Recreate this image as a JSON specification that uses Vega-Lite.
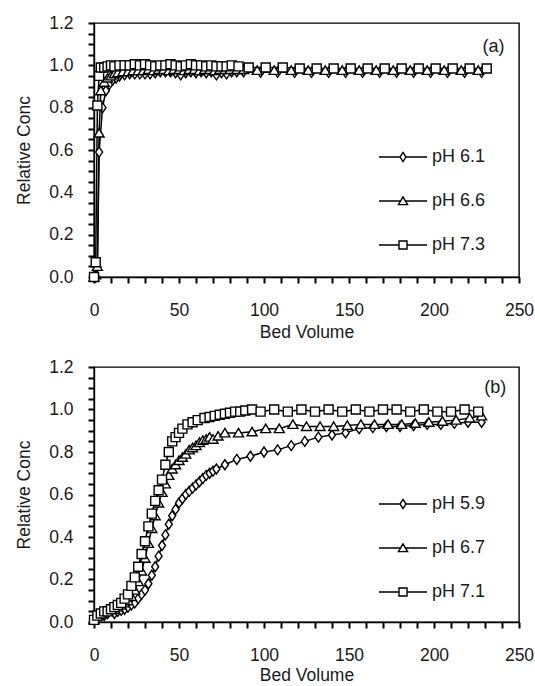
{
  "$schema": "https://vega.github.io/schema/vega-lite/v6.json",
  "background": "white",
  "padding": {"left": 14, "top": 13, "right": 10, "bottom": 0},
  "spacing": 90,
  "bounds": "flush",
  "config": {
    "font": "Liberation Sans",
    "view": {"stroke": "black", "strokeWidth": 1.4},
    "axis": {
      "labelFont": "Liberation Sans", "labelFontSize": 17.5, "labelColor": "#1a1a1a",
      "titleFont": "Liberation Sans", "titleFontSize": 17.5, "titleFontWeight": "normal", "titleColor": "#1a1a1a",
      "domainColor": "black", "domainWidth": 1.4, "tickColor": "#000000", "tickWidth": 2, "tickSize": 6,
      "grid": false, "labelOverlap": false, "labelFlush": false
    },
    "axisX": {"labelPadding": 18, "titlePadding": 5},
    "axisY": {"labelPadding": 15, "titlePadding": 15}
  },
  "resolve": {"scale": {"shape": "independent"}, "legend": {"shape": "independent"}},
  "datasets": {
    "a": [
      {"bv": 0, "c": 0.0, "s": "pH 6.1"}, {"bv": 1, "c": 0.0, "s": "pH 6.1"}, {"bv": 2, "c": 0.05, "s": "pH 6.1"}, {"bv": 3, "c": 0.59, "s": "pH 6.1"}, {"bv": 5, "c": 0.8, "s": "pH 6.1"}, {"bv": 7, "c": 0.88, "s": "pH 6.1"}, {"bv": 9, "c": 0.91, "s": "pH 6.1"}, {"bv": 11, "c": 0.93, "s": "pH 6.1"}, {"bv": 13, "c": 0.94, "s": "pH 6.1"}, {"bv": 15, "c": 0.95, "s": "pH 6.1"}, {"bv": 18, "c": 0.955, "s": "pH 6.1"}, {"bv": 21, "c": 0.96, "s": "pH 6.1"}, {"bv": 24, "c": 0.96, "s": "pH 6.1"}, {"bv": 27, "c": 0.96, "s": "pH 6.1"}, {"bv": 30, "c": 0.96, "s": "pH 6.1"}, {"bv": 33, "c": 0.96, "s": "pH 6.1"}, {"bv": 36, "c": 0.965, "s": "pH 6.1"}, {"bv": 39, "c": 0.97, "s": "pH 6.1"}, {"bv": 42, "c": 0.97, "s": "pH 6.1"}, {"bv": 45, "c": 0.97, "s": "pH 6.1"}, {"bv": 48, "c": 0.965, "s": "pH 6.1"}, {"bv": 51, "c": 0.955, "s": "pH 6.1"}, {"bv": 54, "c": 0.965, "s": "pH 6.1"}, {"bv": 57, "c": 0.97, "s": "pH 6.1"}, {"bv": 60, "c": 0.965, "s": "pH 6.1"}, {"bv": 63, "c": 0.97, "s": "pH 6.1"}, {"bv": 66, "c": 0.965, "s": "pH 6.1"}, {"bv": 69, "c": 0.97, "s": "pH 6.1"}, {"bv": 72, "c": 0.955, "s": "pH 6.1"}, {"bv": 75, "c": 0.965, "s": "pH 6.1"}, {"bv": 78, "c": 0.96, "s": "pH 6.1"}, {"bv": 81, "c": 0.97, "s": "pH 6.1"}, {"bv": 84, "c": 0.97, "s": "pH 6.1"}, {"bv": 88, "c": 0.97, "s": "pH 6.1"}, {"bv": 98, "c": 0.967, "s": "pH 6.1"}, {"bv": 108, "c": 0.967, "s": "pH 6.1"}, {"bv": 118, "c": 0.967, "s": "pH 6.1"}, {"bv": 128, "c": 0.967, "s": "pH 6.1"}, {"bv": 138, "c": 0.967, "s": "pH 6.1"}, {"bv": 148, "c": 0.967, "s": "pH 6.1"}, {"bv": 158, "c": 0.967, "s": "pH 6.1"}, {"bv": 168, "c": 0.967, "s": "pH 6.1"}, {"bv": 178, "c": 0.967, "s": "pH 6.1"}, {"bv": 188, "c": 0.967, "s": "pH 6.1"}, {"bv": 198, "c": 0.967, "s": "pH 6.1"}, {"bv": 208, "c": 0.967, "s": "pH 6.1"}, {"bv": 218, "c": 0.967, "s": "pH 6.1"}, {"bv": 228, "c": 0.967, "s": "pH 6.1"},
      {"bv": 0, "c": 0.0, "s": "pH 6.6"}, {"bv": 1, "c": 0.01, "s": "pH 6.6"}, {"bv": 2, "c": 0.05, "s": "pH 6.6"}, {"bv": 3, "c": 0.68, "s": "pH 6.6"}, {"bv": 4, "c": 0.88, "s": "pH 6.6"}, {"bv": 6, "c": 0.92, "s": "pH 6.6"}, {"bv": 8, "c": 0.94, "s": "pH 6.6"}, {"bv": 10, "c": 0.95, "s": "pH 6.6"}, {"bv": 12, "c": 0.96, "s": "pH 6.6"}, {"bv": 14, "c": 0.965, "s": "pH 6.6"}, {"bv": 17, "c": 0.97, "s": "pH 6.6"}, {"bv": 20, "c": 0.97, "s": "pH 6.6"}, {"bv": 23, "c": 0.975, "s": "pH 6.6"}, {"bv": 26, "c": 0.975, "s": "pH 6.6"}, {"bv": 29, "c": 0.975, "s": "pH 6.6"}, {"bv": 32, "c": 0.98, "s": "pH 6.6"}, {"bv": 35, "c": 0.975, "s": "pH 6.6"}, {"bv": 38, "c": 0.98, "s": "pH 6.6"}, {"bv": 41, "c": 0.98, "s": "pH 6.6"}, {"bv": 44, "c": 0.975, "s": "pH 6.6"}, {"bv": 47, "c": 0.98, "s": "pH 6.6"}, {"bv": 50, "c": 0.98, "s": "pH 6.6"}, {"bv": 53, "c": 0.975, "s": "pH 6.6"}, {"bv": 56, "c": 0.98, "s": "pH 6.6"}, {"bv": 59, "c": 0.98, "s": "pH 6.6"}, {"bv": 62, "c": 0.975, "s": "pH 6.6"}, {"bv": 65, "c": 0.98, "s": "pH 6.6"}, {"bv": 68, "c": 0.98, "s": "pH 6.6"}, {"bv": 71, "c": 0.975, "s": "pH 6.6"}, {"bv": 74, "c": 0.98, "s": "pH 6.6"}, {"bv": 77, "c": 0.98, "s": "pH 6.6"}, {"bv": 80, "c": 0.98, "s": "pH 6.6"}, {"bv": 84, "c": 0.98, "s": "pH 6.6"}, {"bv": 88, "c": 0.98, "s": "pH 6.6"}, {"bv": 96, "c": 0.976, "s": "pH 6.6"}, {"bv": 106, "c": 0.976, "s": "pH 6.6"}, {"bv": 116, "c": 0.976, "s": "pH 6.6"}, {"bv": 126, "c": 0.976, "s": "pH 6.6"}, {"bv": 136, "c": 0.976, "s": "pH 6.6"}, {"bv": 146, "c": 0.976, "s": "pH 6.6"}, {"bv": 156, "c": 0.976, "s": "pH 6.6"}, {"bv": 166, "c": 0.976, "s": "pH 6.6"}, {"bv": 176, "c": 0.976, "s": "pH 6.6"}, {"bv": 186, "c": 0.976, "s": "pH 6.6"}, {"bv": 196, "c": 0.976, "s": "pH 6.6"}, {"bv": 206, "c": 0.976, "s": "pH 6.6"}, {"bv": 216, "c": 0.976, "s": "pH 6.6"}, {"bv": 226, "c": 0.976, "s": "pH 6.6"},
      {"bv": 0, "c": 0.0, "s": "pH 7.3"}, {"bv": 1, "c": 0.07, "s": "pH 7.3"}, {"bv": 2, "c": 0.81, "s": "pH 7.3"}, {"bv": 3, "c": 0.95, "s": "pH 7.3"}, {"bv": 4, "c": 0.99, "s": "pH 7.3"}, {"bv": 6, "c": 0.99, "s": "pH 7.3"}, {"bv": 8, "c": 0.995, "s": "pH 7.3"}, {"bv": 10, "c": 1.0, "s": "pH 7.3"}, {"bv": 12, "c": 0.995, "s": "pH 7.3"}, {"bv": 15, "c": 1.0, "s": "pH 7.3"}, {"bv": 18, "c": 1.0, "s": "pH 7.3"}, {"bv": 21, "c": 1.0, "s": "pH 7.3"}, {"bv": 24, "c": 1.005, "s": "pH 7.3"}, {"bv": 27, "c": 1.0, "s": "pH 7.3"}, {"bv": 30, "c": 1.005, "s": "pH 7.3"}, {"bv": 33, "c": 1.0, "s": "pH 7.3"}, {"bv": 36, "c": 0.995, "s": "pH 7.3"}, {"bv": 39, "c": 1.0, "s": "pH 7.3"}, {"bv": 42, "c": 1.0, "s": "pH 7.3"}, {"bv": 45, "c": 1.005, "s": "pH 7.3"}, {"bv": 48, "c": 1.0, "s": "pH 7.3"}, {"bv": 51, "c": 0.995, "s": "pH 7.3"}, {"bv": 54, "c": 1.0, "s": "pH 7.3"}, {"bv": 57, "c": 1.005, "s": "pH 7.3"}, {"bv": 60, "c": 1.0, "s": "pH 7.3"}, {"bv": 63, "c": 1.0, "s": "pH 7.3"}, {"bv": 66, "c": 0.995, "s": "pH 7.3"}, {"bv": 69, "c": 1.0, "s": "pH 7.3"}, {"bv": 72, "c": 0.995, "s": "pH 7.3"}, {"bv": 75, "c": 0.995, "s": "pH 7.3"}, {"bv": 78, "c": 0.995, "s": "pH 7.3"}, {"bv": 81, "c": 1.0, "s": "pH 7.3"}, {"bv": 85, "c": 0.995, "s": "pH 7.3"}, {"bv": 91, "c": 0.99, "s": "pH 7.3"}, {"bv": 101, "c": 0.99, "s": "pH 7.3"}, {"bv": 111, "c": 0.99, "s": "pH 7.3"}, {"bv": 121, "c": 0.985, "s": "pH 7.3"}, {"bv": 131, "c": 0.985, "s": "pH 7.3"}, {"bv": 141, "c": 0.985, "s": "pH 7.3"}, {"bv": 151, "c": 0.985, "s": "pH 7.3"}, {"bv": 161, "c": 0.985, "s": "pH 7.3"}, {"bv": 171, "c": 0.985, "s": "pH 7.3"}, {"bv": 181, "c": 0.985, "s": "pH 7.3"}, {"bv": 191, "c": 0.985, "s": "pH 7.3"}, {"bv": 201, "c": 0.985, "s": "pH 7.3"}, {"bv": 211, "c": 0.985, "s": "pH 7.3"}, {"bv": 221, "c": 0.985, "s": "pH 7.3"}, {"bv": 231, "c": 0.985, "s": "pH 7.3"}
    ],
    "b": [
      {"bv": 0, "c": 0.01, "s": "pH 5.9"}, {"bv": 2, "c": 0.02, "s": "pH 5.9"}, {"bv": 4, "c": 0.03, "s": "pH 5.9"}, {"bv": 6, "c": 0.03, "s": "pH 5.9"}, {"bv": 8, "c": 0.04, "s": "pH 5.9"}, {"bv": 10, "c": 0.06, "s": "pH 5.9"}, {"bv": 12, "c": 0.04, "s": "pH 5.9"}, {"bv": 14, "c": 0.05, "s": "pH 5.9"}, {"bv": 16, "c": 0.055, "s": "pH 5.9"}, {"bv": 18, "c": 0.06, "s": "pH 5.9"}, {"bv": 20, "c": 0.07, "s": "pH 5.9"}, {"bv": 22, "c": 0.08, "s": "pH 5.9"}, {"bv": 24, "c": 0.09, "s": "pH 5.9"}, {"bv": 26, "c": 0.11, "s": "pH 5.9"}, {"bv": 28, "c": 0.13, "s": "pH 5.9"}, {"bv": 30, "c": 0.15, "s": "pH 5.9"}, {"bv": 32, "c": 0.18, "s": "pH 5.9"}, {"bv": 34, "c": 0.22, "s": "pH 5.9"}, {"bv": 36, "c": 0.26, "s": "pH 5.9"}, {"bv": 38, "c": 0.31, "s": "pH 5.9"}, {"bv": 40, "c": 0.36, "s": "pH 5.9"}, {"bv": 42, "c": 0.41, "s": "pH 5.9"}, {"bv": 44, "c": 0.46, "s": "pH 5.9"}, {"bv": 46, "c": 0.5, "s": "pH 5.9"}, {"bv": 48, "c": 0.53, "s": "pH 5.9"}, {"bv": 50, "c": 0.56, "s": "pH 5.9"}, {"bv": 52, "c": 0.58, "s": "pH 5.9"}, {"bv": 54, "c": 0.6, "s": "pH 5.9"}, {"bv": 56, "c": 0.615, "s": "pH 5.9"}, {"bv": 58, "c": 0.63, "s": "pH 5.9"}, {"bv": 60, "c": 0.645, "s": "pH 5.9"}, {"bv": 62, "c": 0.66, "s": "pH 5.9"}, {"bv": 64, "c": 0.675, "s": "pH 5.9"}, {"bv": 66, "c": 0.69, "s": "pH 5.9"}, {"bv": 68, "c": 0.70, "s": "pH 5.9"}, {"bv": 70, "c": 0.71, "s": "pH 5.9"}, {"bv": 72, "c": 0.72, "s": "pH 5.9"}, {"bv": 77, "c": 0.74, "s": "pH 5.9"}, {"bv": 84, "c": 0.765, "s": "pH 5.9"}, {"bv": 92, "c": 0.78, "s": "pH 5.9"}, {"bv": 100, "c": 0.80, "s": "pH 5.9"}, {"bv": 108, "c": 0.81, "s": "pH 5.9"}, {"bv": 116, "c": 0.83, "s": "pH 5.9"}, {"bv": 124, "c": 0.85, "s": "pH 5.9"}, {"bv": 132, "c": 0.87, "s": "pH 5.9"}, {"bv": 140, "c": 0.88, "s": "pH 5.9"}, {"bv": 148, "c": 0.89, "s": "pH 5.9"}, {"bv": 156, "c": 0.91, "s": "pH 5.9"}, {"bv": 164, "c": 0.915, "s": "pH 5.9"}, {"bv": 172, "c": 0.92, "s": "pH 5.9"}, {"bv": 180, "c": 0.92, "s": "pH 5.9"}, {"bv": 188, "c": 0.925, "s": "pH 5.9"}, {"bv": 196, "c": 0.93, "s": "pH 5.9"}, {"bv": 204, "c": 0.93, "s": "pH 5.9"}, {"bv": 212, "c": 0.935, "s": "pH 5.9"}, {"bv": 220, "c": 0.94, "s": "pH 5.9"}, {"bv": 228, "c": 0.94, "s": "pH 5.9"},
      {"bv": 0, "c": 0.01, "s": "pH 6.7"}, {"bv": 2, "c": 0.03, "s": "pH 6.7"}, {"bv": 4, "c": 0.04, "s": "pH 6.7"}, {"bv": 6, "c": 0.05, "s": "pH 6.7"}, {"bv": 8, "c": 0.05, "s": "pH 6.7"}, {"bv": 10, "c": 0.06, "s": "pH 6.7"}, {"bv": 12, "c": 0.06, "s": "pH 6.7"}, {"bv": 14, "c": 0.07, "s": "pH 6.7"}, {"bv": 16, "c": 0.08, "s": "pH 6.7"}, {"bv": 18, "c": 0.09, "s": "pH 6.7"}, {"bv": 20, "c": 0.10, "s": "pH 6.7"}, {"bv": 22, "c": 0.12, "s": "pH 6.7"}, {"bv": 24, "c": 0.15, "s": "pH 6.7"}, {"bv": 26, "c": 0.19, "s": "pH 6.7"}, {"bv": 28, "c": 0.24, "s": "pH 6.7"}, {"bv": 30, "c": 0.30, "s": "pH 6.7"}, {"bv": 32, "c": 0.37, "s": "pH 6.7"}, {"bv": 34, "c": 0.44, "s": "pH 6.7"}, {"bv": 36, "c": 0.50, "s": "pH 6.7"}, {"bv": 38, "c": 0.56, "s": "pH 6.7"}, {"bv": 40, "c": 0.61, "s": "pH 6.7"}, {"bv": 42, "c": 0.65, "s": "pH 6.7"}, {"bv": 44, "c": 0.69, "s": "pH 6.7"}, {"bv": 46, "c": 0.72, "s": "pH 6.7"}, {"bv": 48, "c": 0.74, "s": "pH 6.7"}, {"bv": 50, "c": 0.76, "s": "pH 6.7"}, {"bv": 52, "c": 0.775, "s": "pH 6.7"}, {"bv": 54, "c": 0.79, "s": "pH 6.7"}, {"bv": 56, "c": 0.81, "s": "pH 6.7"}, {"bv": 58, "c": 0.82, "s": "pH 6.7"}, {"bv": 60, "c": 0.83, "s": "pH 6.7"}, {"bv": 62, "c": 0.845, "s": "pH 6.7"}, {"bv": 64, "c": 0.855, "s": "pH 6.7"}, {"bv": 66, "c": 0.86, "s": "pH 6.7"}, {"bv": 68, "c": 0.87, "s": "pH 6.7"}, {"bv": 70, "c": 0.86, "s": "pH 6.7"}, {"bv": 73, "c": 0.875, "s": "pH 6.7"}, {"bv": 77, "c": 0.89, "s": "pH 6.7"}, {"bv": 85, "c": 0.89, "s": "pH 6.7"}, {"bv": 93, "c": 0.895, "s": "pH 6.7"}, {"bv": 101, "c": 0.91, "s": "pH 6.7"}, {"bv": 109, "c": 0.91, "s": "pH 6.7"}, {"bv": 117, "c": 0.93, "s": "pH 6.7"}, {"bv": 125, "c": 0.92, "s": "pH 6.7"}, {"bv": 133, "c": 0.92, "s": "pH 6.7"}, {"bv": 141, "c": 0.92, "s": "pH 6.7"}, {"bv": 149, "c": 0.925, "s": "pH 6.7"}, {"bv": 157, "c": 0.93, "s": "pH 6.7"}, {"bv": 165, "c": 0.93, "s": "pH 6.7"}, {"bv": 173, "c": 0.93, "s": "pH 6.7"}, {"bv": 181, "c": 0.93, "s": "pH 6.7"}, {"bv": 189, "c": 0.935, "s": "pH 6.7"}, {"bv": 197, "c": 0.94, "s": "pH 6.7"}, {"bv": 205, "c": 0.945, "s": "pH 6.7"}, {"bv": 213, "c": 0.95, "s": "pH 6.7"}, {"bv": 221, "c": 0.96, "s": "pH 6.7"}, {"bv": 228, "c": 0.97, "s": "pH 6.7"},
      {"bv": 0, "c": 0.01, "s": "pH 7.1"}, {"bv": 2, "c": 0.03, "s": "pH 7.1"}, {"bv": 4, "c": 0.04, "s": "pH 7.1"}, {"bv": 6, "c": 0.05, "s": "pH 7.1"}, {"bv": 8, "c": 0.05, "s": "pH 7.1"}, {"bv": 10, "c": 0.06, "s": "pH 7.1"}, {"bv": 12, "c": 0.07, "s": "pH 7.1"}, {"bv": 14, "c": 0.08, "s": "pH 7.1"}, {"bv": 16, "c": 0.09, "s": "pH 7.1"}, {"bv": 18, "c": 0.11, "s": "pH 7.1"}, {"bv": 20, "c": 0.13, "s": "pH 7.1"}, {"bv": 22, "c": 0.17, "s": "pH 7.1"}, {"bv": 24, "c": 0.21, "s": "pH 7.1"}, {"bv": 26, "c": 0.26, "s": "pH 7.1"}, {"bv": 28, "c": 0.32, "s": "pH 7.1"}, {"bv": 30, "c": 0.38, "s": "pH 7.1"}, {"bv": 32, "c": 0.45, "s": "pH 7.1"}, {"bv": 34, "c": 0.51, "s": "pH 7.1"}, {"bv": 36, "c": 0.57, "s": "pH 7.1"}, {"bv": 38, "c": 0.62, "s": "pH 7.1"}, {"bv": 40, "c": 0.67, "s": "pH 7.1"}, {"bv": 42, "c": 0.74, "s": "pH 7.1"}, {"bv": 44, "c": 0.80, "s": "pH 7.1"}, {"bv": 46, "c": 0.85, "s": "pH 7.1"}, {"bv": 48, "c": 0.87, "s": "pH 7.1"}, {"bv": 50, "c": 0.89, "s": "pH 7.1"}, {"bv": 52, "c": 0.91, "s": "pH 7.1"}, {"bv": 55, "c": 0.93, "s": "pH 7.1"}, {"bv": 58, "c": 0.94, "s": "pH 7.1"}, {"bv": 61, "c": 0.95, "s": "pH 7.1"}, {"bv": 65, "c": 0.96, "s": "pH 7.1"}, {"bv": 68, "c": 0.965, "s": "pH 7.1"}, {"bv": 71, "c": 0.97, "s": "pH 7.1"}, {"bv": 74, "c": 0.975, "s": "pH 7.1"}, {"bv": 77, "c": 0.98, "s": "pH 7.1"}, {"bv": 80, "c": 0.985, "s": "pH 7.1"}, {"bv": 83, "c": 0.99, "s": "pH 7.1"}, {"bv": 86, "c": 0.99, "s": "pH 7.1"}, {"bv": 89, "c": 0.995, "s": "pH 7.1"}, {"bv": 93, "c": 1.0, "s": "pH 7.1"}, {"bv": 98, "c": 0.99, "s": "pH 7.1"}, {"bv": 106, "c": 1.0, "s": "pH 7.1"}, {"bv": 114, "c": 0.99, "s": "pH 7.1"}, {"bv": 122, "c": 1.0, "s": "pH 7.1"}, {"bv": 130, "c": 0.99, "s": "pH 7.1"}, {"bv": 138, "c": 1.0, "s": "pH 7.1"}, {"bv": 146, "c": 0.99, "s": "pH 7.1"}, {"bv": 154, "c": 1.0, "s": "pH 7.1"}, {"bv": 162, "c": 0.99, "s": "pH 7.1"}, {"bv": 170, "c": 1.0, "s": "pH 7.1"}, {"bv": 178, "c": 1.0, "s": "pH 7.1"}, {"bv": 186, "c": 0.99, "s": "pH 7.1"}, {"bv": 194, "c": 1.0, "s": "pH 7.1"}, {"bv": 202, "c": 0.99, "s": "pH 7.1"}, {"bv": 210, "c": 0.99, "s": "pH 7.1"}, {"bv": 218, "c": 1.0, "s": "pH 7.1"}, {"bv": 226, "c": 0.99, "s": "pH 7.1"}
    ]
  },
  "vconcat": [
    {
      "width": 425, "height": 254,
      "data": {"name": "a"},
      "resolve": {"scale": {"shape": "independent"}, "legend": {"shape": "independent"}},
      "encoding": {
        "x": {"field": "bv", "type": "quantitative", "title": "Bed Volume",
              "scale": {"domain": [0, 250], "nice": false},
              "axis": {"values": [0,10,20,30,40,50,60,70,80,90,100,110,120,130,140,150,160,170,180,190,200,210,220,230,240,250],
                       "labelExpr": "datum.value % 50 === 0 ? datum.label : ''"}},
        "y": {"field": "c", "type": "quantitative", "title": "Relative Conc",
              "scale": {"domain": [0, 1.2], "nice": false},
              "axis": {"values": [0,0.05,0.1,0.15,0.2,0.25,0.3,0.35,0.4,0.45,0.5,0.55,0.6,0.65,0.7,0.75,0.8,0.85,0.9,0.95,1.0,1.05,1.1,1.15,1.2],
                       "labelExpr": "abs(datum.value*5 - round(datum.value*5)) < 0.001 ? format(datum.value, '.1f') : ''"}}
      },
      "layer": [
        {"mark": {"type": "line", "color": "black", "strokeWidth": 1.5},
         "encoding": {"detail": {"field": "s"}}},
        {"mark": {"type": "point", "filled": true, "fill": "white", "stroke": "black", "strokeWidth": 1.4, "size": 100, "opacity": 1},
         "encoding": {"shape": {"field": "s", "type": "nominal", "legend": null,
            "scale": {"domain": ["pH 6.1", "pH 6.6", "pH 7.3"],
                      "range": ["M0,-1L0.7,0L0,1L-0.7,0Z", "M0,-0.9L1,0.8L-1,0.8Z", "M-0.9,-0.9L0.9,-0.9L0.9,0.9L-0.9,0.9Z"]}}}},
        {"mark": {"type": "point", "filled": false, "color": "black", "strokeWidth": 1.4, "size": 2304, "opacity": 0},
         "encoding": {"shape": {"field": "s", "type": "nominal",
            "scale": {"domain": ["pH 6.1", "pH 6.6", "pH 7.3"],
                      "range": ["M-1,0L-0.125,0M0.125,0L1,0M0,-0.19L0.125,0L0,0.19L-0.125,0Z",
                                "M-1,0L-0.1,0M0.1,0L1,0M0,-0.17L0.19,0.15L-0.19,0.15Z",
                                "M-1,0L-0.167,0M0.167,0L1,0M-0.167,-0.167L0.167,-0.167L0.167,0.167L-0.167,0.167Z"]},
            "legend": {"title": null, "orient": "none", "legendX": 284, "legendY": 109, "padding": 0,
                       "labelFont": "Liberation Sans", "labelFontSize": 18, "labelColor": "#1a1a1a",
                       "symbolSize": 2304, "symbolStrokeColor": "black", "symbolStrokeWidth": 1.4, "symbolOpacity": 1,
                       "labelOffset": 4, "rowPadding": 10}}}},
        {"data": {"values": [{"bv": 235, "c": 1.085, "t": "(a)"}]},
         "mark": {"type": "text", "font": "Liberation Sans", "fontSize": 18, "color": "#1a1a1a", "align": "center", "baseline": "middle"},
         "encoding": {"text": {"field": "t"}}}
      ]
    },
    {
      "width": 425, "height": 255,
      "data": {"name": "b"},
      "resolve": {"scale": {"shape": "independent"}, "legend": {"shape": "independent"}},
      "encoding": {
        "x": {"field": "bv", "type": "quantitative", "title": "Bed Volume",
              "scale": {"domain": [0, 250], "nice": false},
              "axis": {"values": [0,10,20,30,40,50,60,70,80,90,100,110,120,130,140,150,160,170,180,190,200,210,220,230,240,250],
                       "labelExpr": "datum.value % 50 === 0 ? datum.label : ''", "titlePadding": 3}},
        "y": {"field": "c", "type": "quantitative", "title": "Relative Conc",
              "scale": {"domain": [0, 1.2], "nice": false},
              "axis": {"values": [0,0.05,0.1,0.15,0.2,0.25,0.3,0.35,0.4,0.45,0.5,0.55,0.6,0.65,0.7,0.75,0.8,0.85,0.9,0.95,1.0,1.05,1.1,1.15,1.2],
                       "labelExpr": "abs(datum.value*5 - round(datum.value*5)) < 0.001 ? format(datum.value, '.1f') : ''"}}
      },
      "layer": [
        {"mark": {"type": "line", "color": "black", "strokeWidth": 1.5},
         "encoding": {"detail": {"field": "s"}}},
        {"mark": {"type": "point", "filled": true, "fill": "white", "stroke": "black", "strokeWidth": 1.4, "size": 100, "opacity": 1},
         "encoding": {"shape": {"field": "s", "type": "nominal", "legend": null,
            "scale": {"domain": ["pH 5.9", "pH 6.7", "pH 7.1"],
                      "range": ["M0,-1L0.7,0L0,1L-0.7,0Z", "M0,-0.9L1,0.8L-1,0.8Z", "M-0.9,-0.9L0.9,-0.9L0.9,0.9L-0.9,0.9Z"]}}}},
        {"mark": {"type": "point", "filled": false, "color": "black", "strokeWidth": 1.4, "size": 2304, "opacity": 0},
         "encoding": {"shape": {"field": "s", "type": "nominal",
            "scale": {"domain": ["pH 5.9", "pH 6.7", "pH 7.1"],
                      "range": ["M-1,0L-0.125,0M0.125,0L1,0M0,-0.19L0.125,0L0,0.19L-0.125,0Z",
                                "M-1,0L-0.1,0M0.1,0L1,0M0,-0.17L0.19,0.15L-0.19,0.15Z",
                                "M-1,0L-0.167,0M0.167,0L1,0M-0.167,-0.167L0.167,-0.167L0.167,0.167L-0.167,0.167Z"]},
            "legend": {"title": null, "orient": "none", "legendX": 284, "legendY": 112, "padding": 0,
                       "labelFont": "Liberation Sans", "labelFontSize": 18, "labelColor": "#1a1a1a",
                       "symbolSize": 2304, "symbolStrokeColor": "black", "symbolStrokeWidth": 1.4, "symbolOpacity": 1,
                       "labelOffset": 4, "rowPadding": 10}}}},
        {"data": {"values": [{"bv": 236, "c": 1.1, "t": "(b)"}]},
         "mark": {"type": "text", "font": "Liberation Sans", "fontSize": 18, "color": "#1a1a1a", "align": "center", "baseline": "middle"},
         "encoding": {"text": {"field": "t"}}}
      ]
    }
  ]
}
